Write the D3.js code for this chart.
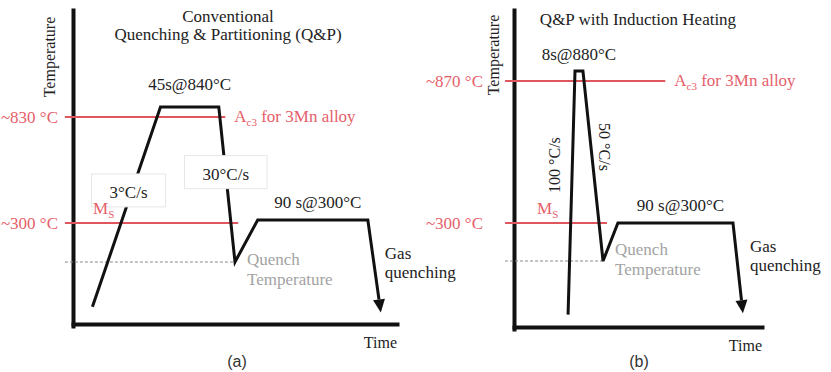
<!DOCTYPE html>
<html><head><meta charset="utf-8">
<script src="https://cdn.jsdelivr.net/npm/d3@7"></script>
<style>
html,body{margin:0;padding:0;background:#fff;}
svg{display:block;}
</style></head><body>
<svg id="c" width="831" height="372"></svg>
<script>
// ---------------- DATA ----------------
const panelLabels = ["(a)", "(b)"];
const titleA = ["Conventional", "Quenching & Partitioning (Q&P)"];
const titleB = ["Q&P with Induction Heating"];
// thermal profile: schematic time (0–100) and temperature (°C)
const timeA = [6, 27, 45, 50, 57, 91, 95];
const tempA = [40, 840, 840, 200, 300, 300, 20];
const timeB = [21.8, 24.6, 27.8, 35.9, 41.9, 88.3, 92.3];
const tempB = [15, 880, 880, 200, 300, 300, 20];
// reference temperatures: Ac3, Ms, quench temperature
const refTempA = [830, 293, 200];
const refTempB = [870, 300, 200];
const refLabelA = ["~830 °C", "~300 °C"];
const refLabelB = ["~870 °C", "~300 °C"];
const ratesA = ["3°C/s", "30°C/s"];
const ratesB = ["100 °C/s", "50 °C/s"];
const holdsA = ["45s@840°C", "90 s@300°C"];
const holdsB = ["8s@880°C", "90 s@300°C"];
const axisLabels = ["Temperature", "Time"];
const quenchLabel = ["Quench", "Temperature"];
const gasLabel = ["Gas", "quenching"];

// ---------------- STYLE ----------------
const svg = d3.select("#c");
const SERIF = "'Liberation Serif','Times New Roman',serif";
const SANS = "'Liberation Sans',Arial,sans-serif";
const RED = "#e0565e";
const REDTXT = "#e5606a";
const GRAY = "#a3a3a3";
const FS = 17;

function txt(g, x, y, s, opt = {}) {
  const t = g.append("text").attr("x", x).attr("y", y).text(s)
    .attr("font-family", opt.family || SERIF)
    .attr("font-size", opt.size || FS)
    .attr("fill", opt.fill || "#222")
    .attr("text-anchor", opt.anchor || "start");
  if (opt.rotate) t.attr("transform", `rotate(${opt.rotate},${x},${y})`);
  if (opt.dy) t.attr("dy", opt.dy);
  return t;
}
function subText(g, x, y, main, sub, rest, fill) {
  const t = g.append("text").attr("x", x).attr("y", y)
    .attr("font-family", SERIF).attr("font-size", FS).attr("fill", fill);
  t.append("tspan").text(main);
  t.append("tspan").text(sub).attr("font-size", 11).attr("dy", 4);
  if (rest) t.append("tspan").text(rest).attr("dy", -4);
  return t;
}

function drawPanel(cfg) {
  const g = svg.append("g");
  const xs = d3.scaleLinear().domain([0, 100]).range(cfg.xRange);
  const ys = d3.scaleLinear().domain(cfg.yDomain).range(cfg.yRange);
  const yAxisScale = d3.scaleLinear().domain([0, 1]).range([cfg.axisY + 2, 10]);
  const pts = cfg.time.map((t, i) => [xs(t), ys(cfg.temp[i])]);

  // axes
  const ax = g.append("g").attr("transform", `translate(0,${cfg.axisY})`)
    .call(d3.axisBottom(xs).tickValues([]).tickSizeOuter(0));
  const ay = g.append("g").attr("transform", `translate(${cfg.xRange[0]},0)`)
    .call(d3.axisLeft(yAxisScale).tickValues([]).tickSizeOuter(0));
  [ax, ay].forEach(a => a.select(".domain").attr("stroke", "#111").attr("stroke-width", 4).attr("stroke-linecap", "square"));

  // reference lines
  const x0 = xs(cfg.refStart);
  g.append("line").attr("x1", x0).attr("x2", xs(cfg.ac3End))
    .attr("y1", ys(cfg.ref[0])).attr("y2", ys(cfg.ref[0]))
    .attr("stroke", RED).attr("stroke-width", 2);
  g.append("line").attr("x1", x0).attr("x2", xs(cfg.msEnd))
    .attr("y1", ys(cfg.ref[1])).attr("y2", ys(cfg.ref[1]))
    .attr("stroke", RED).attr("stroke-width", 2);
  g.append("line").attr("x1", x0).attr("x2", pts[3][0])
    .attr("y1", ys(cfg.ref[2])).attr("y2", ys(cfg.ref[2]))
    .attr("stroke", "#8a8a8a").attr("stroke-width", 1.2).attr("stroke-dasharray", "3,2");

  // profile with arrow
  const tip = pts[pts.length - 1], prev = pts[pts.length - 2];
  const dx = tip[0] - prev[0], dy = tip[1] - prev[1], L = Math.hypot(dx, dy);
  const ux = dx / L, uy = dy / L, AL = 13, AW = 6;
  const base = [tip[0] - ux * AL, tip[1] - uy * AL];
  const linePts = pts.slice(0, -1).concat([base]);
  g.append("path").attr("d", d3.line()(linePts)).attr("fill", "none")
    .attr("stroke", "#111").attr("stroke-width", 3).attr("stroke-linejoin", "miter");
  g.append("path").attr("d", d3.line()([tip, [base[0] - uy * AW, base[1] + ux * AW], [base[0] + uy * AW, base[1] - ux * AW]]) + "Z")
    .attr("fill", "#111");

  // ref labels
  txt(g, cfg.refLabelX, ys(cfg.ref[0]) + 6, cfg.refLabel[0], { anchor: "end", fill: REDTXT });
  txt(g, cfg.refLabelX, ys(cfg.ref[1]) + 6, cfg.refLabel[1], { anchor: "end", fill: REDTXT });
  subText(g, xs(cfg.ac3End) + 9, ys(cfg.ref[0]) + 5, "A", "c3", " for 3Mn alloy", REDTXT);
  subText(g, cfg.msLabelX, ys(cfg.ref[1]) - 9, "M", "S", null, REDTXT).attr("class", "ms");

  // quench temperature label
  const qx = pts[3][0] + 12, qy = ys(cfg.ref[2]);
  txt(g, qx, qy + cfg.qdy, quenchLabel[0], { fill: GRAY });
  txt(g, qx, qy + cfg.qdy + 20, quenchLabel[1], { fill: GRAY });

  // hold labels
  txt(g, (pts[1][0] + pts[2][0]) / 2, pts[1][1] - cfg.h1dy, cfg.holds[0], { anchor: "middle" });
  txt(g, (pts[4][0] + pts[5][0]) / 2 + 5, pts[4][1] - 12, cfg.holds[1], { anchor: "middle" });

  // gas quenching
  txt(g, pts[5][0] + cfg.gasDx, pts[5][1] + cfg.gasDy, gasLabel[0]);
  txt(g, pts[5][0] + cfg.gasDx, pts[5][1] + cfg.gasDy + 19, gasLabel[1]);

  // axis labels
  txt(g, cfg.tempLabelX, cfg.tempLabelY, axisLabels[0], { anchor: "middle", rotate: -90, size: 16 });
  txt(g, cfg.xRange[1], cfg.axisY + 24, axisLabels[1], { anchor: "end", size: 16 });
  txt(g, cfg.panelX, 367, cfg.panel, { anchor: "middle", family: SANS, size: 16, fill: "#333" });

  // titles
  cfg.title.forEach((s, i) => txt(g, cfg.titleX, cfg.titleY + i * 18, s, { anchor: "middle" }));

  return { g, pts };
}

// ---- panel (a)
const A = drawPanel({
  xRange: [73, 397], yDomain: [0, 200, 300, 830, 840], yRange: [318, 262, 220, 117, 107],
  axisY: 324, time: timeA, temp: tempA, ref: refTempA, refLabel: refLabelA,
  refStart: -2.5, ac3End: 47, msEnd: 51, refLabelX: 58, msLabelX: 93,
  qdy: 3, holds: holdsA, h1dy: 17, gasDx: 17, gasDy: 39,
  tempLabelX: 55, tempLabelY: 57, panelX: 237, panel: panelLabels[0],
  title: titleA, titleX: 228, titleY: 22
});
// rate boxes on the segments (a)
function rateBox(g, p, q, f, s, ddx) {
  const cx = p[0] + (q[0] - p[0]) * f + ddx, cy = p[1] + (q[1] - p[1]) * f;
  const t = txt(g, cx, cy + 6, s, { anchor: "middle" });
  const bb = t.node().getBBox();
  g.insert("rect", () => t.node())
    .attr("x", bb.x - 18).attr("y", bb.y - 9).attr("width", bb.width + 36).attr("height", bb.height + 14)
    .attr("fill", "#fff").attr("stroke", "#e6e6e6").attr("stroke-width", 1);
}
rateBox(A.g, A.pts[0], A.pts[1], 0.575, ratesA[0], -3);
rateBox(A.g, A.pts[2], A.pts[3], 0.43, ratesA[1], 0);
A.g.selectAll(".ms").raise();

// ---- panel (b)
const B = drawPanel({
  xRange: [514, 762], yDomain: [0, 200, 300, 870, 880], yRange: [319, 261, 223, 81, 71],
  axisY: 327, time: timeB, temp: tempB, ref: refTempB, refLabel: refLabelB,
  refStart: -3.6, ac3End: 61, msEnd: 37.5, refLabelX: 483, msLabelX: 537,
  qdy: -6, holds: holdsB, h1dy: 11, gasDx: 17, gasDy: 29,
  tempLabelX: 499, tempLabelY: 55, panelX: 639, panel: panelLabels[1],
  title: titleB, titleX: 638, titleY: 25
});
// rotated rate labels (b)
function rateRot(g, p, q, f, off, s, rot) {
  const cx = p[0] + (q[0] - p[0]) * f + off, cy = p[1] + (q[1] - p[1]) * f;
  txt(g, cx, cy, s, { anchor: "middle", rotate: rot, dy: "0.35em", size: 16 });
}
rateRot(B.g, B.pts[0], B.pts[1], 0.614, -18, ratesB[0], -90);
rateRot(B.g, B.pts[2], B.pts[3], 0.40, 14, ratesB[1], 90);
</script>
</body></html>
